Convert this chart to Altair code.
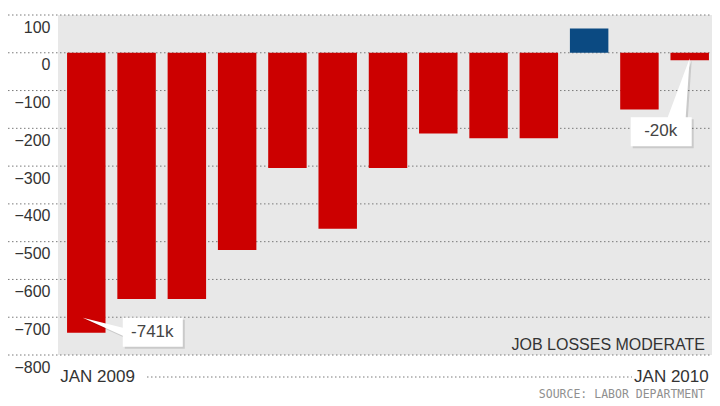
import altair as alt
import pandas as pd

# ---- data ----
months = ["Jan 2009", "Feb 2009", "Mar 2009", "Apr 2009", "May 2009", "Jun 2009",
          "Jul 2009", "Aug 2009", "Sep 2009", "Oct 2009", "Nov 2009", "Dec 2009", "Jan 2010"]
job_change = [-741, -652, -652, -522, -305, -466, -305, -214, -226, -226, 64, -150, -20]
y_ticks = [100, 0, -100, -200, -300, -400, -500, -600, -700, -800]
first_label = "JAN 2009"
last_label = "JAN 2010"
callout_months = ["Jan 2009", "Jan 2010"]
callout_texts = ["-741k", "-20k"]
title_text = "JOB LOSSES MODERATE"
source_text = "SOURCE: LABOR DEPARTMENT"

FONT = "Liberation Sans"
W, H = 654, 340

df = pd.DataFrame({"month": months, "change": job_change})
df["label"] = ""
for m, t in zip(callout_months, callout_texts):
    df.loc[df["month"] == m, "label"] = t

ticks_df = pd.DataFrame({"v": y_ticks})

xscale = alt.Scale(domain=months, range=[0, 660], paddingInner=0.235, paddingOuter=0.18)
yscale = alt.Scale(domain=[y_ticks[-1], y_ticks[0]], nice=False)

yaxis = alt.Axis(values=y_ticks, title=None, grid=False, ticks=False, domain=False,
                 labelPadding=8, labelOffset=12, labelBaseline="middle",
                 labelFont=FONT, labelFontSize=16, labelColor="#333333")

grid = alt.Chart(ticks_df).mark_rule(color="#7a7a7a", strokeDash=[1.5, 2.5], strokeWidth=1).encode(
    y=alt.Y("v:Q", scale=yscale, axis=yaxis),
    x=alt.value(-50), x2=alt.value(662),
)

bars = alt.Chart(df).mark_bar().encode(
    x=alt.X("month:N", scale=xscale, sort=months, axis=None),
    y=alt.Y("change:Q", scale=yscale, axis=yaxis),
    color=alt.condition(alt.datum.change > 0, alt.value("#0b4a82"), alt.value("#cc0000")),
)

base = alt.Chart(df).encode(
    x=alt.X("month:N", scale=xscale, sort=months, axis=None),
    y=alt.Y("change:Q", scale=yscale, axis=yaxis),
)

path1 = "M0.365,-0.15 L0.965,-0.15 L0.965,0.14 L0.365,0.14 L0.365,0.03 L-0.035,-0.15 L0.365,-0.05 Z"
path2 = "M-0.59,0.57 L-0.22,0.57 L0.0,-0.02 L-0.04,0.57 L0.02,0.57 L0.02,0.86 L-0.59,0.86 Z"

def callout(month, path, dx, dy):
    sub = base.transform_filter(alt.datum.month == month)
    shadow = sub.mark_point(shape=path, size=40000, filled=True, fill="#000000", opacity=0.13,
                            strokeWidth=0, xOffset=2, yOffset=2)
    box = sub.mark_point(shape=path, size=40000, filled=True, fill="#ffffff", opacity=1,
                         strokeWidth=0)
    txt = sub.mark_text(dx=dx, dy=dy, font=FONT, fontSize=17, color="#444444",
                        align="center", baseline="middle").encode(text="label:N")
    return shadow + box + txt

c1 = callout(callout_months[0], path1, 66, -1)
c2 = callout(callout_months[1], path2, -29, 71)

first_df = pd.DataFrame({"month": [months[0]], "t": [first_label]})
last_df = pd.DataFrame({"month": [months[-1]], "t": [last_label]})

lab1 = alt.Chart(first_df).mark_text(align="left", baseline="alphabetic", dx=-26, font=FONT,
                                     fontSize=17, color="#333333").encode(
    x=alt.X("month:N", scale=xscale, sort=months, axis=None), y=alt.value(367), text="t:N")
lab2 = alt.Chart(last_df).mark_text(align="right", baseline="alphabetic", dx=19, font=FONT,
                                    fontSize=17, color="#333333").encode(
    x=alt.X("month:N", scale=xscale, sort=months, axis=None), y=alt.value(367), text="t:N")

bottom_rule = alt.Chart(first_df).mark_rule(color="#7a7a7a", strokeDash=[1.5, 2.5], strokeWidth=1).encode(
    x=alt.value(89), x2=alt.value(574), y=alt.value(362))

title = alt.Chart(pd.DataFrame({"t": [title_text]})).mark_text(
    align="right", baseline="alphabetic", font=FONT, fontSize=16, color="#333333").encode(
    x=alt.value(647), y=alt.value(335), text="t:N")

source = alt.Chart(pd.DataFrame({"t": [source_text]})).mark_text(
    align="right", baseline="alphabetic", font="DejaVu Sans Mono", fontSize=11.5, color="#8f8f8f").encode(
    x=alt.value(647), y=alt.value(383), text="t:N")

chart = alt.layer(grid, bars, c1, c2, lab1, lab2, bottom_rule, title, source).properties(
    width=W, height=H,
    autosize=alt.AutoSizeParams(type="none"),
    padding={"left": 50, "top": 7, "right": 0, "bottom": 48},
    background="#ffffff",
).configure_view(stroke=None, fill="#e8e8e8")

chart.save("out.html", embed_options={"renderer": "svg", "actions": False})
